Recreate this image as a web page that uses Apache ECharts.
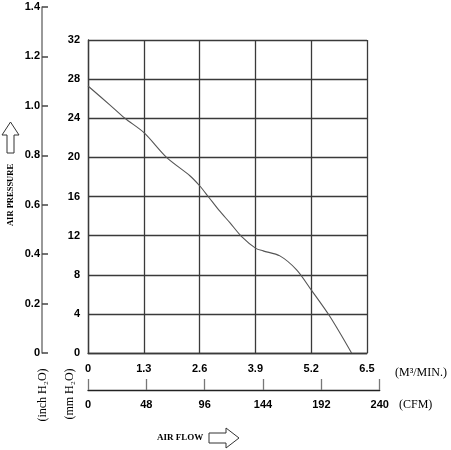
<!DOCTYPE html>
<html>
<head>
<meta charset="utf-8">
<script src="https://cdn.jsdelivr.net/npm/echarts@6/dist/echarts.min.js"></script>
<style>html,body{margin:0;padding:0;background:#fff}#c{width:451px;height:450px}</style>
</head>
<body>
<div id="c"></div>
<script>
// Airflow in M3/MIN and static pressure in mm H2O
const flowM3 = [0, 0.5, 0.86, 1.31, 1.83, 2.38, 2.6, 2.8, 3.05, 3.31, 3.58, 3.91, 4.08, 4.47, 4.86, 5.2, 5.64, 6.14];
const pressureMM = [27.3, 25.4, 24.0, 22.5, 20.0, 18.1, 17.1, 16.0, 14.6, 13.3, 11.9, 10.7, 10.44, 9.93, 8.5, 6.45, 3.7, 0];
const m3Ticks = ['0', '1.3', '2.6', '3.9', '5.2', '6.5'];
const cfmTicks = ['0', '48', '96', '144', '192', '240'];
const mmTicks = ['0', '4', '8', '12', '16', '20', '24', '28', '32'];
const inchTicks = ['0', '0.2', '0.4', '0.6', '0.8', '1.0', '1.2', '1.4'];

const numFont = {fontFamily: "'Liberation Sans','Arial',sans-serif", fontWeight: 'bold', fontSize: 11, color: '#000'};
const serif = "'Liberation Serif','DejaVu Serif',serif";
const lineCol = '#3a3a3a';

const chart = echarts.init(document.getElementById('c'), null, {renderer: 'canvas'});
const data = flowM3.map((x, i) => [x, pressureMM[i]]);

chart.setOption({
  animation: false,
  backgroundColor: '#fff',
  grid: [
    {left: 88, top: 40, width: 279, height: 313},
    {left: 42, top: 7, width: 10, height: 346},
    {left: 88, top: 370, width: 291.7, height: 20}
  ],
  xAxis: [
    {gridIndex: 0, type: 'value', min: 0, max: 6.5, interval: 1.3,
     axisLine: {show: true, onZero: false, lineStyle: {color: lineCol, width: 1.3}},
     axisTick: {show: false},
     axisLabel: Object.assign({margin: 10, formatter: v => m3Ticks[Math.round(v / 1.3)]}, numFont),
     splitLine: {show: true, lineStyle: {color: lineCol, width: 1.3}}},
    {gridIndex: 1, type: 'value', min: 0, max: 1, show: false},
    {gridIndex: 2, type: 'value', min: 0, max: 240, interval: 48, position: 'bottom',
     axisLine: {show: true, lineStyle: {color: '#222', width: 1.3}},
     axisTick: {show: true, inside: true, length: 11, lineStyle: {color: '#777', width: 1.3}},
     axisLabel: Object.assign({margin: 9, formatter: v => cfmTicks[Math.round(v / 48)]}, numFont),
     splitLine: {show: false}}
  ],
  yAxis: [
    {gridIndex: 0, type: 'value', min: 0, max: 32, interval: 4,
     axisLine: {show: true, onZero: false, lineStyle: {color: lineCol, width: 1.3}},
     axisTick: {show: false},
     axisLabel: Object.assign({margin: 8, formatter: v => mmTicks[Math.round(v / 4)]}, numFont),
     splitLine: {show: true, lineStyle: {color: lineCol, width: 1.3}}},
    {gridIndex: 1, type: 'value', min: 0, max: 1.4, interval: 0.2, position: 'left',
     axisLine: {show: true, onZero: false, lineStyle: {color: '#777', width: 1.5}},
     axisTick: {show: true, inside: true, length: 6, lineStyle: {color: '#444', width: 1.5}},
     axisLabel: Object.assign({margin: 2, formatter: v => inchTicks[Math.round(v / 0.2)]}, numFont),
     splitLine: {show: false}},
    {gridIndex: 2, type: 'value', min: 0, max: 1, show: false}
  ],
  series: [{
    type: 'line', xAxisIndex: 0, yAxisIndex: 0, data: data, smooth: 0.3,
    symbol: 'none', lineStyle: {color: '#555', width: 1.1}
  }],
  graphic: [
    {type: 'polygon', shape: {points: [[10.5,122],[19,135],[14,135],[14,153],[7,153],[7,135],[2,135]]},
     style: {fill: '#fff', stroke: '#333', lineWidth: 1}},
    {type: 'text', x: 11, y: 195, rotation: Math.PI / 2,
     style: {text: 'AIR PRESSURE', font: 'bold 8.5px ' + serif, fill: '#000', textAlign: 'center', textVerticalAlign: 'middle'}},
    {type: 'text', x: 43, y: 395, rotation: Math.PI / 2,
     style: {text: '(inch H\u2082O)', font: '12px ' + serif, fill: '#000', textAlign: 'center', textVerticalAlign: 'middle'}},
    {type: 'text', x: 70, y: 394, rotation: Math.PI / 2,
     style: {text: '(mm H\u2082O)', font: '12px ' + serif, fill: '#000', textAlign: 'center', textVerticalAlign: 'middle'}},
    {type: 'text', x: 395, y: 373,
     style: {text: '(M\u00B3/MIN.)', font: '12px ' + serif, fill: '#000', textAlign: 'left', textVerticalAlign: 'middle'}},
    {type: 'text', x: 399, y: 405,
     style: {text: '(CFM)', font: '12px ' + serif, fill: '#000', textAlign: 'left', textVerticalAlign: 'middle'}},
    {type: 'text', x: 157, y: 438,
     style: {text: 'AIR FLOW', font: 'bold 9px ' + serif, fill: '#000', textAlign: 'left', textVerticalAlign: 'middle'}},
    {type: 'polygon', shape: {points: [[209,433],[226,433],[226,428],[239,438],[226,448],[226,443],[209,443]]},
     style: {fill: '#fff', stroke: '#333', lineWidth: 1}}
  ]
});
</script>
</body>
</html>
